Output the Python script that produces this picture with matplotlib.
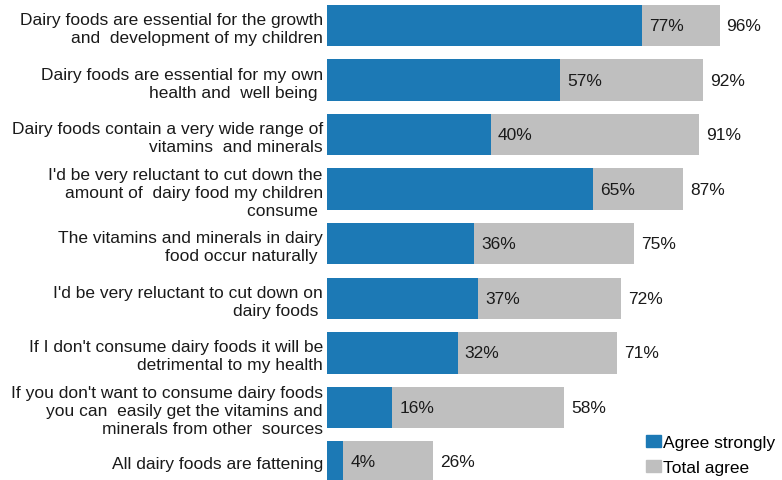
import matplotlib.pyplot as plt
from matplotlib.patches import Patch

plt.rcParams['font.family'] = ['Liberation Sans', 'DejaVu Sans']

# Survey statements, top to bottom
statements = [
    "Dairy foods are essential for the growth\nand  development of my children",
    "Dairy foods are essential for my own\nhealth and  well being ",
    "Dairy foods contain a very wide range of\nvitamins  and minerals",
    "I'd be very reluctant to cut down the\namount of  dairy food my children\nconsume ",
    "The vitamins and minerals in dairy\nfood occur naturally ",
    "I'd be very reluctant to cut down on\ndairy foods ",
    "If I don't consume dairy foods it will be\ndetrimental to my health",
    "If you don't want to consume dairy foods\nyou can  easily get the vitamins and\nminerals from other  sources",
    "All dairy foods are fattening",
]
agree_strongly = [77, 57, 40, 65, 36, 37, 32, 16, 4]
total_agree = [96, 92, 91, 87, 75, 72, 71, 58, 26]

blue = '#1c79b5'
grey = '#bfbfbf'
fs = 12.5

fig = plt.figure(figsize=(7.82, 4.81), dpi=100)
ax = fig.add_axes([327 / 782, 0, 409 / 782, 1])

ypos = list(range(len(statements)))
ax.barh(ypos, total_agree, height=0.76, color=grey)
ax.barh(ypos, agree_strongly, height=0.76, color=blue)

for y, a, t in zip(ypos, agree_strongly, total_agree):
    ax.text(a + 1.7, y, f"{a}%", va='center', ha='left', fontsize=fs, color='#1a1a1a')
    ax.text(t + 1.7, y, f"{t}%", va='center', ha='left', fontsize=fs, color='#1a1a1a',
            clip_on=False)

ax.set_xlim(0, 100)
ax.set_ylim(8.33, -0.485)
ax.set_yticks(ypos)
ax.set_yticklabels(statements, fontsize=fs, color='#1a1a1a', linespacing=1.26)
ax.tick_params(axis='y', length=0, pad=3)
ax.set_xticks([])
for s in ax.spines.values():
    s.set_visible(False)

handles = [Patch(color=blue, label='Agree strongly'), Patch(color=grey, label='Total agree')]
fig.legend(handles=handles, loc='upper left', bbox_to_anchor=(646 / 782, 1 - 436 / 481),
           frameon=False, fontsize=fs, handlelength=0.85, handleheight=0.7,
           handletextpad=0.15, labelspacing=0.55, borderaxespad=0, borderpad=0)

fig.savefig('out.png', dpi=100)
